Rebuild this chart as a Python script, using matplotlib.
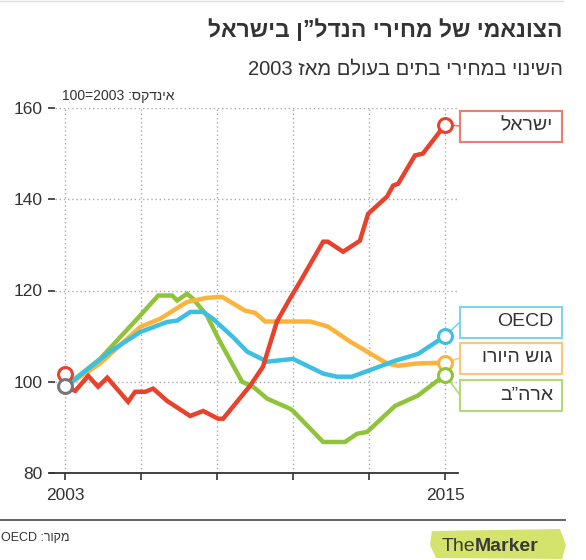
import matplotlib
matplotlib.use("Agg")
import matplotlib.pyplot as plt
from matplotlib.patches import Rectangle, Polygon
from matplotlib.lines import Line2D
import re

plt.rcParams['font.family'] = ['Liberation Sans', 'DejaVu Sans']

W, H = 586, 560


def rtl(s):
    # matplotlib has no bidi: reverse the string, keep latin/digit runs readable
    r = s[::-1]
    return re.sub(r'[A-Za-z0-9]+', lambda m: m.group(0)[::-1], r)


def fx(px):
    return px / W


def fy(py):
    return 1 - py / H


# ---- data (index, 2003 = 100) ----
israel_t = [2003.0, 2003.32, 2003.73, 2004.04, 2004.33, 2004.99, 2005.21, 2005.53, 2005.78,
            2006.22, 2006.95, 2007.36, 2007.83, 2007.99, 2008.84, 2009.25, 2009.69, 2010.10,
            2010.42, 2011.15, 2011.30, 2011.78, 2012.31, 2012.57, 2013.17, 2013.36, 2013.52,
            2014.05, 2014.30, 2015.0]
israel_v = [98.9, 98.0, 101.3, 98.9, 100.9, 95.6, 97.8, 97.8, 98.5,
            95.8, 92.5, 93.6, 91.9, 91.9, 99.1, 103.3, 113.2, 118.2,
            121.9, 130.7, 130.7, 128.5, 130.9, 136.8, 140.6, 143.0, 143.4,
            149.6, 150.0, 156.3]

oecd_t = [2003.0, 2004.42, 2005.37, 2006.22, 2006.54, 2006.95, 2007.36, 2007.67, 2008.30,
          2008.75, 2009.38, 2010.20, 2011.15, 2011.59, 2012.06, 2012.57, 2013.42, 2014.15, 2015.0]
oecd_v = [98.9, 106.6, 110.9, 113.1, 113.4, 115.3, 115.3, 113.8, 109.8,
          106.6, 104.4, 105.0, 101.8, 101.1, 101.1, 102.4, 104.6, 106.1, 110.0]

euro_t = [2003.0, 2004.1, 2005.37, 2006.0, 2006.85, 2007.48, 2007.96, 2008.68, 2009.0,
          2009.32, 2010.74, 2011.30, 2012.0, 2012.54, 2013.17, 2013.52, 2014.11, 2015.0]
euro_v = [98.9, 104.0, 112.0, 113.8, 117.5, 118.4, 118.6, 115.6, 115.1,
          113.2, 113.2, 112.1, 108.8, 106.6, 104.0, 103.5, 104.0, 104.2]

us_t = [2003.0, 2004.1, 2005.37, 2005.94, 2006.38, 2006.54, 2006.85, 2007.04, 2007.48,
        2007.89, 2008.59, 2008.94, 2009.38, 2010.10, 2010.20, 2011.15, 2011.84, 2012.22,
        2012.54, 2013.42, 2014.15, 2015.0]
us_v = [98.9, 105.0, 114.5, 118.9, 118.9, 117.8, 119.3, 118.2, 114.5,
        108.8, 100.0, 98.9, 96.3, 94.1, 93.6, 86.8, 86.8, 88.6,
        89.0, 94.7, 97.0, 101.5]

start_israel = 101.8
start_others = 99.0

labels = ['ישראל', 'OECD', 'גוש היורו', 'ארה”ב']
colors = ['#e8412c', '#3cbfe0', '#fbb33b', '#8fc43a']
edge_colors = ['#ec7b70', '#7fd3ea', '#fcc877', '#b4d77a']
box_tops = [111, 307, 343, 380]

fig = plt.figure(figsize=(W / 100, H / 100), dpi=100)

# thin top rule
fig.add_artist(Line2D([0, fx(563)], [fy(1), fy(1)], color='#dddddd', lw=1))

fig.text(fx(563), fy(37), rtl('הצונאמי של מחירי הנדל”ן בישראל'), ha='right', va='baseline',
         fontsize=16.5, fontweight='bold', color='#333333')
fig.text(fx(563), fy(75), rtl('השינוי במחירי בתים בעולם מאז 2003'), ha='right', va='baseline',
         fontsize=14.5, color='#333333')
fig.text(fx(62), fy(100), rtl('אינדקס: 2003=100'), ha='left', va='baseline',
         fontsize=10, color='#333333')

ax = fig.add_axes([fx(55), fy(473), fx(458) - fx(55), (473 - 108) / H])
ax.set_xlim(2003 - 0.32, 2015.41)
ax.set_ylim(80, 160)

xticks = [2003 + 2.4 * i for i in range(6)]
ax.set_xticks(xticks)
ax.set_xticklabels(['2003', '', '', '', '', '2015'])
ax.set_yticks([80, 100, 120, 140, 160])
ax.tick_params(axis='both', labelsize=12.5, colors='#333333', length=5, width=1.2)
ax.tick_params(axis='x', pad=6)
ax.tick_params(axis='y', pad=4)
for sp in ['top', 'right', 'left']:
    ax.spines[sp].set_visible(False)
ax.spines['bottom'].set_linewidth(1.3)
ax.spines['bottom'].set_color('#333333')
ax.spines['bottom'].set_bounds(2003 - 0.47, 2015.41)

for yv in [100, 120, 140, 160]:
    ax.axhline(yv, color='#aaaaaa', lw=1, ls=(0, (1, 2)), zorder=1)
for xv in xticks:
    ax.axvline(xv, color='#aaaaaa', lw=1, ls=(0, (1, 2)), zorder=1)

series = [(israel_t, israel_v), (oecd_t, oecd_v), (euro_t, euro_v), (us_t, us_v)]
for (t, v), c in zip(series[::-1], colors[::-1]):
    ax.plot(t, v, color=c, lw=3.2, solid_joinstyle='miter', zorder=3, clip_on=False)

ax.plot([2003], [start_israel], 'o', ms=10, mfc='white', mec=colors[0], mew=2.2, zorder=5,
        clip_on=False)
ax.plot([2003], [start_others], 'o', ms=10, mfc='white', mec='#777777', mew=2.2, zorder=5,
        clip_on=False)

for (t, v), lab, c, ec, top in zip(series, labels, colors, edge_colors, box_tops):
    ax.plot([t[-1]], [v[-1]], 'o', ms=10, mfc='white', mec=c, mew=2.2, zorder=6, clip_on=False)
    mid = top + 15
    ax.annotate('', xy=(t[-1], v[-1]), xycoords='data',
                xytext=(fx(460), fy(mid)), textcoords='figure fraction',
                arrowprops=dict(arrowstyle='-', color=ec, lw=1.2, shrinkA=0, shrinkB=5),
                zorder=4)
    fig.add_artist(Rectangle((fx(460), fy(top + 31)), fx(562) - fx(460), 31 / H,
                             transform=fig.transFigure, fill=True, fc='white', ec=ec, lw=1.5))
    fig.text(fx(553), fy(mid), rtl(lab), ha='right', va='center', fontsize=14, color='#333333')

# footer
fig.add_artist(Line2D([0, fx(565)], [fy(520), fy(520)], color='#555555', lw=1.3))
fig.text(fx(1), fy(541), rtl('מקור: OECD'), ha='left', va='baseline', fontsize=9, color='#333333')

logo = Polygon([(fx(432), fy(531)), (fx(560), fy(529)), (fx(566), fy(545)), (fx(562), fy(559)),
                (fx(436), fy(558)), (fx(430), fy(545))],
               closed=True, transform=fig.transFigure, fc='#d3e36b', ec='none')
fig.add_artist(logo)
fig.text(fx(475), fy(551), 'The', ha='right', va='baseline', fontsize=14, color='#3a3a3a')
fig.text(fx(475), fy(551), 'Marker', ha='left', va='baseline', fontsize=14,
         fontweight='bold', color='#3a3a3a')

fig.savefig('out.png', dpi=100)
